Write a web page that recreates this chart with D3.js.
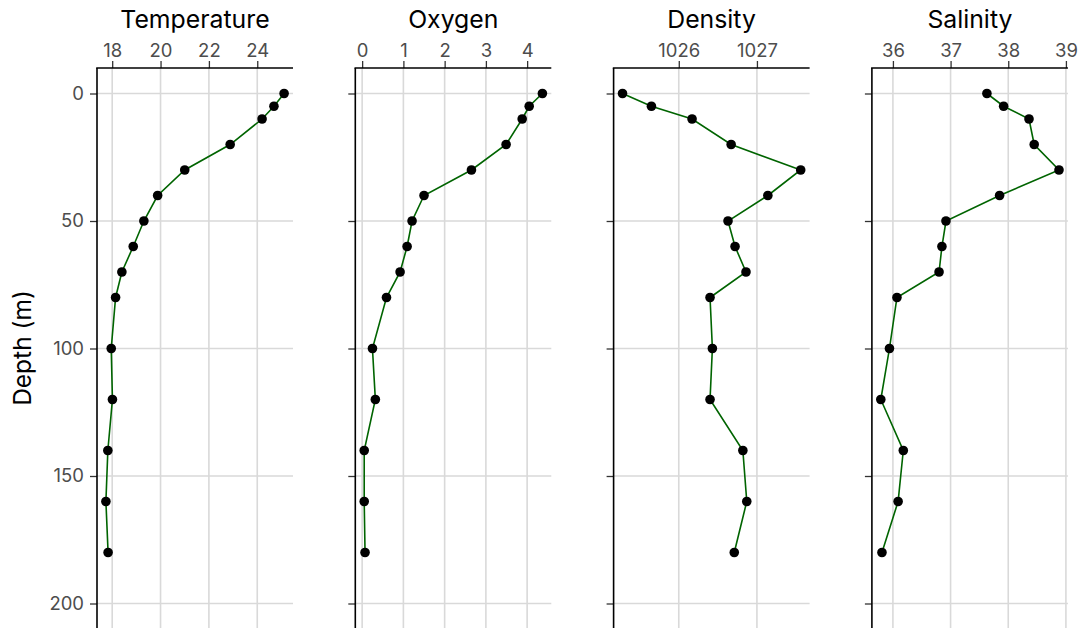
<!DOCTYPE html>
<html>
<head>
<meta charset="utf-8">
<script src="https://cdn.jsdelivr.net/npm/d3@7"></script>
<style>
  html, body { margin: 0; padding: 0; background: #fff; }
  svg { display: block; font-family: Inter, "Liberation Sans", Arial, sans-serif; }
</style>
</head>
<body>
<svg id="chart" width="1080" height="628"></svg>
<script>
// Water-column profile: one value per sampled depth
const depth       = [0, 5, 10, 20, 30, 40, 50, 60, 70, 80, 100, 120, 140, 160, 180];
const temperature = [25.11, 24.69, 24.20, 22.88, 21.00, 19.88, 19.31, 18.87, 18.40, 18.14, 17.96, 18.01, 17.82, 17.74, 17.83];
const oxygen      = [4.37, 4.05, 3.88, 3.49, 2.65, 1.50, 1.21, 1.09, 0.92, 0.59, 0.25, 0.32, 0.05, 0.05, 0.07];
const density     = [1025.28, 1025.65, 1026.17, 1026.67, 1027.56, 1027.14, 1026.63, 1026.72, 1026.86, 1026.40, 1026.43, 1026.40, 1026.82, 1026.87, 1026.71];
const salinity    = [37.63, 37.92, 38.36, 38.45, 38.88, 37.85, 36.92, 36.85, 36.80, 36.07, 35.94, 35.79, 36.18, 36.09, 35.81];

// Axis ticks
const depthTicks = [0, 50, 100, 150, 200];
const temperatureTicks = [18, 20, 22, 24];
const oxygenTicks = [0, 1, 2, 3, 4];
const densityTicks = [1026, 1027];
const salinityTicks = [36, 37, 38, 39];

const panelNames = ["Temperature", "Oxygen", "Density", "Salinity"];
const panelValues = [temperature, oxygen, density, salinity];
const panelTicks = [temperatureTicks, oxygenTicks, densityTicks, salinityTicks];

const svg = d3.select("#chart");

const panelTop = 68;
const panelBottom = 629;
const firstLeft = 97;
const panelWidth = 196;
const panelStep = 258.3;

const gridColor = "#d9d9d9";
const tickColor = "#333333";
const labelColor = "#4d4d4d";
const tickFont = 18.5;
const fontStack = "Inter, Liberation Sans, Arial, sans-serif";

// Depth increases downwards
const y = d3.scaleLinear().domain([-10, 210]).range([panelTop, panelBottom]);

panelNames.forEach((name, i) => {
  const values = panelValues[i];
  const left = firstLeft + i * panelStep;
  const right = left + panelWidth;

  // Free x scale per panel with 5% padding around the data range
  const [lo, hi] = d3.extent(values);
  const pad = (hi - lo) * 0.05;
  const x = d3.scaleLinear().domain([lo - pad, hi + pad]).range([left, right]);

  const g = svg.append("g");

  // Grid
  g.append("g").selectAll("line").data(depthTicks).join("line")
    .attr("x1", left).attr("x2", right)
    .attr("y1", d => y(d)).attr("y2", d => y(d))
    .attr("stroke", gridColor).attr("stroke-width", 1.6);
  g.append("g").selectAll("line").data(panelTicks[i]).join("line")
    .attr("x1", d => x(d)).attr("x2", d => x(d))
    .attr("y1", panelTop).attr("y2", panelBottom)
    .attr("stroke", gridColor).attr("stroke-width", 1.6);

  // Top axis
  const top = g.append("g")
    .attr("transform", `translate(0,${panelTop})`)
    .call(d3.axisTop(x).tickValues(panelTicks[i]).tickSize(7).tickPadding(4).tickFormat(d3.format("d")));
  top.select(".domain").remove();
  top.selectAll(".tick line").attr("stroke", tickColor).attr("stroke-width", 1.3);
  top.selectAll(".tick text").attr("fill", labelColor).attr("font-size", tickFont)
    .attr("font-family", fontStack);

  // Left axis (labels only on the first panel)
  const leftAxis = g.append("g")
    .attr("transform", `translate(${left},0)`)
    .call(d3.axisLeft(y).tickValues(depthTicks).tickSize(7).tickPadding(6)
      .tickFormat(i === 0 ? d3.format("d") : () => ""));
  leftAxis.select(".domain").remove();
  leftAxis.selectAll(".tick line").attr("stroke", tickColor).attr("stroke-width", 1.3);
  leftAxis.selectAll(".tick text").attr("fill", labelColor).attr("font-size", tickFont)
    .attr("font-family", fontStack);

  // Axis lines
  g.append("line")
    .attr("x1", left).attr("x2", left).attr("y1", panelTop).attr("y2", panelBottom)
    .attr("stroke", "#000").attr("stroke-width", 1.6);
  g.append("line")
    .attr("x1", left - 0.8).attr("x2", right).attr("y1", panelTop).attr("y2", panelTop)
    .attr("stroke", "#000").attr("stroke-width", 1.6);

  // Panel title
  g.append("text")
    .attr("x", (left + right) / 2).attr("y", 28)
    .attr("text-anchor", "middle")
    .attr("font-size", 24.8).attr("fill", "#000")
    .text(name);

  // Profile line and points
  const pts = depth.map((d, k) => [x(values[k]), y(d)]);
  g.append("path")
    .attr("d", d3.line()(pts))
    .attr("fill", "none").attr("stroke", "#006400").attr("stroke-width", 1.6);
  g.append("g").selectAll("circle").data(pts).join("circle")
    .attr("cx", d => d[0]).attr("cy", d => d[1]).attr("r", 4.8)
    .attr("fill", "#000");
});

// Shared depth label
svg.append("text")
  .attr("transform", `translate(31,348) rotate(-90)`)
  .attr("text-anchor", "middle")
  .attr("font-size", 24.5).attr("fill", "#000")
  .text("Depth (m)");
</script>
</body>
</html>
